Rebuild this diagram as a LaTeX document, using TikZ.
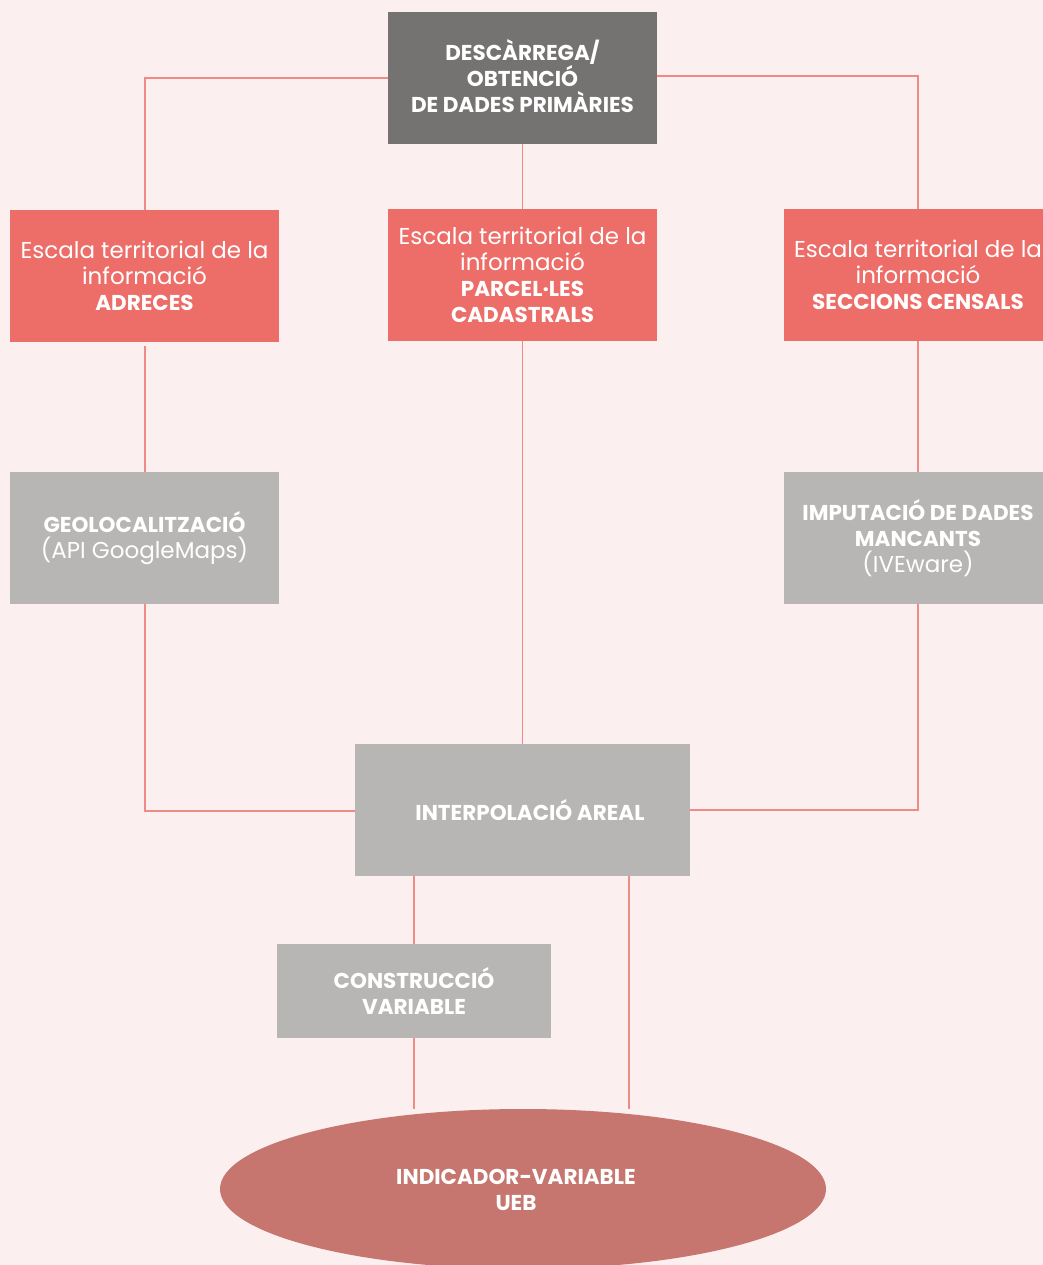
\documentclass[tikz,border=0pt]{standalone}
\usepackage{fontspec}
\setmainfont{Poppins}
\usetikzlibrary{shapes.geometric}
\definecolor{bgc}{HTML}{FCEFEF}
\definecolor{topc}{HTML}{757371}
\definecolor{redc}{HTML}{ED6E69}
\definecolor{grayc}{HTML}{B8B6B4}
\definecolor{ellc}{HTML}{C6766E}
\definecolor{linec}{HTML}{F08A85}
\newcommand{\bt}[1]{{\fontsize{21.5}{25.5}\selectfont\bfseries #1}}
\begin{document}
\begin{tikzpicture}[x=1pt,y=-1pt,
  box/.style={rectangle,inner sep=0pt,align=center,text=white,font=\fontsize{23}{25.8}\selectfont},
  link/.style={draw=linec,line width=1.1pt}]
\useasboundingbox (0,0) rectangle (1043,1265);
\fill[bgc] (0,0) rectangle (1043,1265);
\begin{scope}
\clip (0,0) rectangle (1043,1265);
% nodes
\node[box,fill=topc,minimum width=269pt,minimum height=132pt] (top) at (522.5,78) {};
\node[box] (toptext) at (522.5,76) {\bt{DESCÀRREGA/}\\\bt{OBTENCIÓ}\\\bt{DE DADES PRIMÀRIES}};
\node[box,fill=redc,minimum width=269pt,minimum height=132pt] (r1) at (144.5,276) {Escala territorial de la\\informació\\\bt{ADRECES}};
\node[box,fill=redc,minimum width=269pt,minimum height=132pt] (r2) at (522.5,275) {Escala territorial de la\\informació\\\bt{PARCEL·LES}\\\bt{CADASTRALS}};
\node[box,fill=redc,minimum width=268pt,minimum height=132pt] (r3) at (918,275) {Escala territorial de la\\informació\\\bt{SECCIONS CENSALS}};
\node[box,fill=grayc,minimum width=269pt,minimum height=132pt] (g1) at (144.5,538) {\bt{GEOLOCALITZACIÓ}\\(API GoogleMaps)};
\node[box,fill=grayc,minimum width=268pt,minimum height=132pt] (g3) at (918,538) {\bt{IMPUTACIÓ DE DADES}\\\bt{MANCANTS}\\(IVEware)};
\node[box,fill=grayc,minimum width=335pt,minimum height=132pt] (ip) at (522.5,810) {\hspace*{15pt}\bt{INTERPOLACIÓ AREAL}};
\node[box,fill=grayc,minimum width=274pt,minimum height=94pt] (cv) at (414,991) {\bt{CONSTRUCCIÓ}\\\bt{VARIABLE}};
\node[ellipse,fill=ellc,inner sep=0pt,minimum width=606pt,minimum height=160pt] (el) at (523,1189) {};
\node[box] (eltext) at (516,1190) {\bt{INDICADOR-VARIABLE}\\\bt{UEB}};
% coordinates
\coordinate (c1) at (145,78);
\coordinate (c2) at (918,76);
\coordinate (c3) at (145,811);
\coordinate (c4) at (918,810);
% connectors
\draw[link] (top.west |- c1) -- (c1) -- (c1 |- r1.north);
\draw[link] (top.east |- c2) -- (c2) -- (c2 |- r3.north);
\draw[link] (top.south) -- (r2.north);
\draw[link] ([yshift=-4pt]r1.south -| c1) -- (g1.north -| c1);
\draw[link] (r2.south) -- (r2.south |- ip.north);
\draw[link] (r3.south -| c2) -- (g3.north -| c2);
\draw[link] (g1.south -| c3) -- (c3) -- (ip.west |- c3);
\draw[link] (g3.south -| c4) -- (c4) -- (ip.east |- c4);
\draw[link] (ip.south -| cv.north) -- (cv.north);
\coordinate (e1) at (414,1109);
\coordinate (e2) at (629,1109);
\draw[link] (cv.south) -- (e1);
\draw[link] (ip.south -| e2) -- (e2);
\end{scope}
\end{tikzpicture}
\end{document}
